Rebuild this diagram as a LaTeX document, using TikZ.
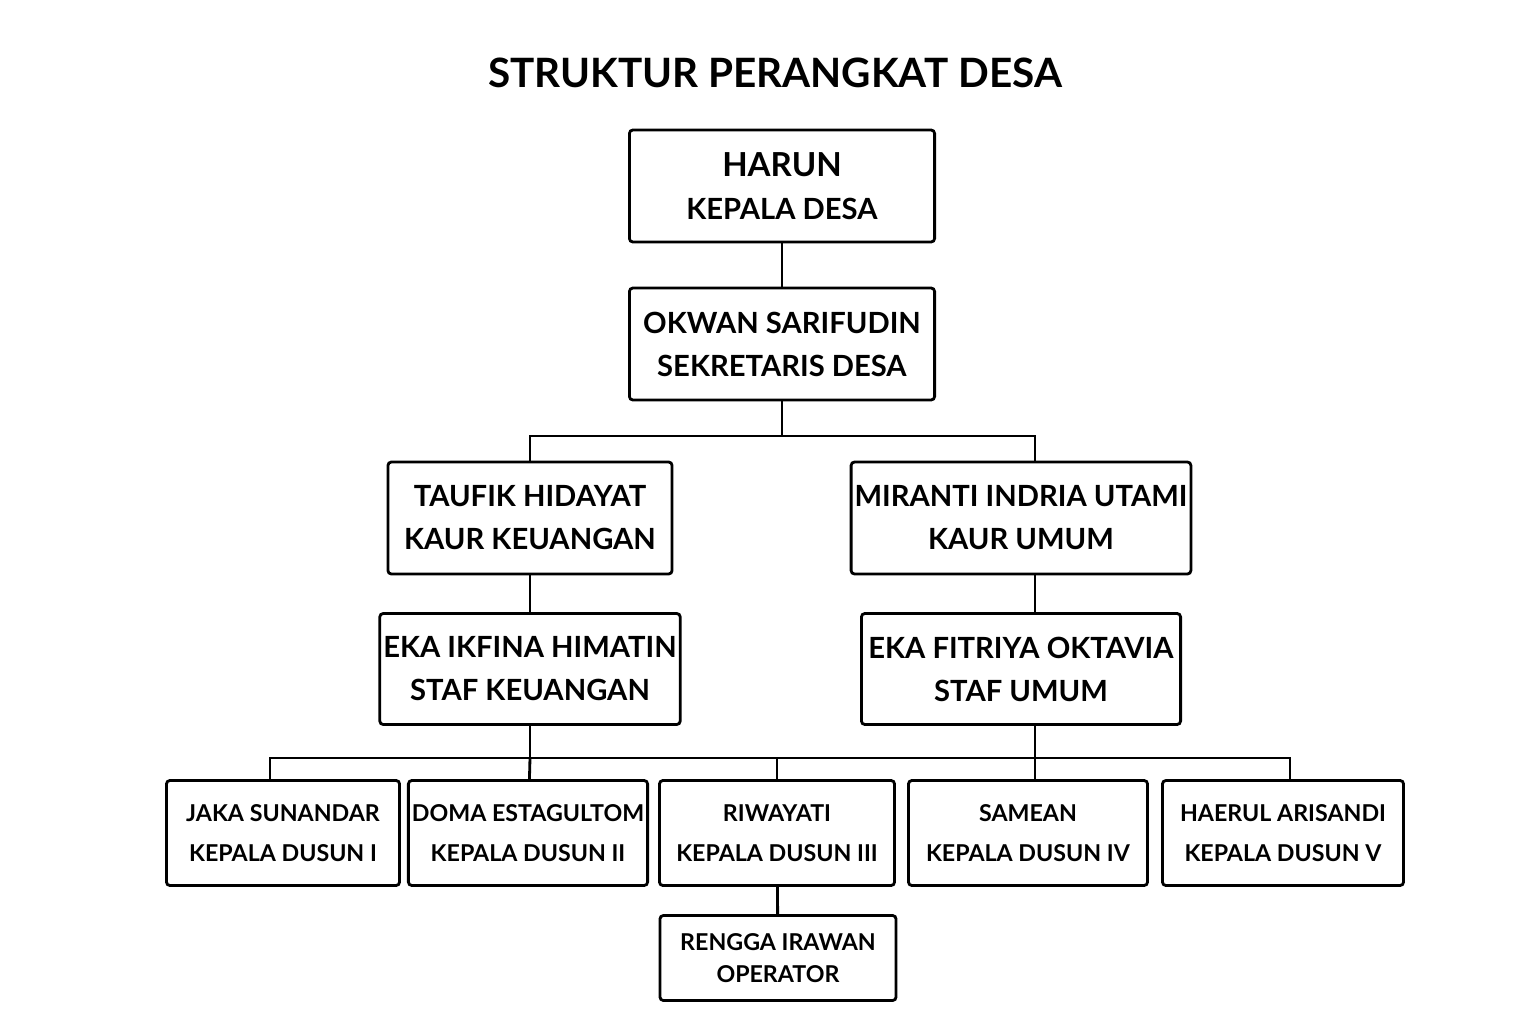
\documentclass[tikz,border=0pt]{standalone}
\usepackage{fontspec}
\setmainfont{Lato}
\usetikzlibrary{positioning}
\tikzset{
  box/.style={draw, thick, rounded corners=1pt, align=center, inner sep=1pt},
  big/.style={box, font=\fontsize{8.3}{12.2}\selectfont},
  small/.style={box, font=\fontsize{6.6}{11.2}\selectfont, minimum height=1.05cm},
}
\begin{document}
\begin{tikzpicture}[x=0.01cm, y=-0.01cm]
  \useasboundingbox (0,0) rectangle (1536,1024);

  \node[font=\bfseries\fontsize{11.5}{14}\selectfont] (title) at (775,73) {STRUKTUR PERANGKAT DESA};

  \node[big, minimum width=3.05cm, minimum height=1.12cm] (kades) at (782,186) {{\fontsize{9.4}{12}\selectfont\bfseries HARUN}\\ \textbf{KEPALA DESA}};
  \node[big, minimum width=3.05cm, minimum height=1.12cm] (sekdes) at (782,344) {\textbf{OKWAN SARIFUDIN}\\ \textbf{SEKRETARIS DESA}};

  \node[big, minimum width=2.84cm, minimum height=1.12cm] (kaurkeu) at (530,518) {\textbf{TAUFIK HIDAYAT}\\ \textbf{KAUR KEUANGAN}};
  \node[big, minimum width=3.19cm, minimum height=1.12cm] (kaurum) at (1021,518) {\textbf{MIRANTI INDRIA UTAMI}\\ \textbf{KAUR UMUM}};

  \node[big, minimum width=2.84cm, minimum height=1.11cm] (stafkeu) at (530,669) {\textbf{EKA IKFINA HIMATIN}\\ \textbf{STAF KEUANGAN}};
  \node[big, minimum width=3.19cm, minimum height=1.11cm] (stafum) at (1021,669) {\textbf{EKA FITRIYA OKTAVIA}\\ \textbf{STAF UMUM}};

  % kepala dusun
  \node[small, minimum width=2.33cm] (kadus1) at (283,833) {\textbf{JAKA SUNANDAR}\\ \textbf{KEPALA DUSUN I}};
  \node[small, minimum width=2.33cm] (kadus2) at (528,833) {\textbf{DOMA ESTAGULTOM}\\ \textbf{KEPALA DUSUN II}};
  \node[small, minimum width=2.35cm] (kadus3) at (777,833) {\textbf{RIWAYATI}\\ \textbf{KEPALA DUSUN III}};
  \node[small, minimum width=2.39cm] (kadus4) at (1028,833) {\textbf{SAMEAN}\\ \textbf{KEPALA DUSUN IV}};
  \node[small, minimum width=2.41cm] (kadus5) at (1283,833) {\textbf{HAERUL ARISANDI}\\ \textbf{KEPALA DUSUN V}};

  \node[small, minimum width=2.36cm, minimum height=0.85cm, font=\fontsize{6.6}{9}\selectfont] (operator) at (778,958) {\textbf{RENGGA IRAWAN}\\ \textbf{OPERATOR}};

  % connectors
  \coordinate (busA) at (782,436);
  \coordinate (busB) at (530,758);
  \draw[thick] (kades) -- (sekdes);
  \draw[thick] (sekdes) -- (busA);
  \draw[thick] (kaurkeu.north) |- (busA) -| (1035,462);
  \draw[thick] (kaurkeu) -- (stafkeu);
  \draw[thick] (1035,574) -- (1035,614);
  \draw[thick] (stafkeu) -- (busB);
  \draw[thick] (1035,725) -- (1035,758);
  \draw[thick] (270,781) |- (busB) -| (1290,781);
  \draw[thick] (busB) -- (kadus2);
  \draw[thick] (777,758) -- (kadus3);
  \draw[thick] (1035,758) -- (1035,781);
  \draw[thick] (kadus3) -- (operator);
\end{tikzpicture}
\end{document}
